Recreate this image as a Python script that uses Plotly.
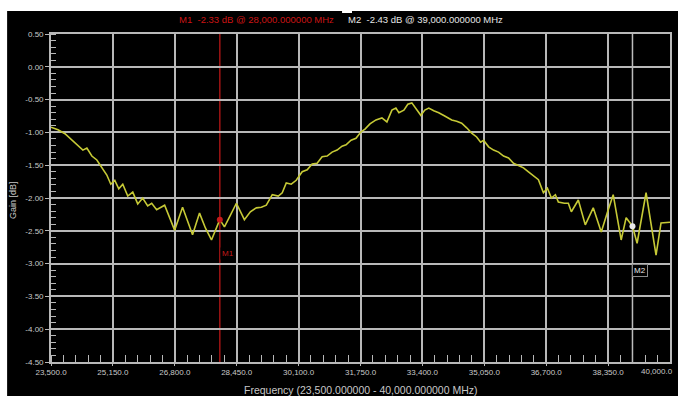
import plotly.graph_objects as go

# Measured S21 gain sweep (MHz, dB)
freq_mhz = [23500, 23686, 23872, 24058, 24217, 24350, 24456, 24589, 24722, 24855,
            24988, 25094, 25200, 25307, 25413, 25546, 25679, 25812, 25944, 26077,
            26184, 26316, 26529, 26795, 27007, 27273, 27459, 27618, 27778, 28000,
            28123, 28283, 28442, 28655, 28814, 28973, 29106, 29239, 29399, 29558,
            29664, 29771, 29904, 30036, 30196, 30329, 30461, 30594, 30727, 30860,
            30993, 31126, 31258, 31365, 31498, 31630, 31763, 31870, 32002, 32162,
            32321, 32454, 32587, 32693, 32773, 32906, 33012, 33118, 33251, 33358,
            33464, 33570, 33703, 33836, 33995, 34181, 34314, 34447, 34580, 34713,
            34846, 34952, 35032, 35165, 35297, 35430, 35563, 35696, 35829, 35962,
            36095, 36227, 36360, 36493, 36626, 36732, 36839, 36945, 37024, 37184,
            37290, 37370, 37556, 37742, 37954, 38167, 38326, 38486, 38698, 38831,
            39000, 39123, 39362, 39628, 39761, 39894, 40000]
gain_db = [-0.92, -0.96, -1.02, -1.12, -1.21, -1.27, -1.24, -1.36, -1.42, -1.54,
           -1.65, -1.79, -1.73, -1.86, -1.79, -1.97, -1.91, -2.09, -2.00, -2.12,
           -2.08, -2.18, -2.11, -2.49, -2.14, -2.56, -2.23, -2.46, -2.64, -2.33,
           -2.44, -2.26, -2.08, -2.33, -2.21, -2.15, -2.14, -2.11, -1.95, -1.97,
           -1.92, -1.77, -1.79, -1.73, -1.60, -1.57, -1.48, -1.47, -1.37, -1.36,
           -1.30, -1.27, -1.21, -1.19, -1.12, -1.09, -0.99, -0.95, -0.87, -0.81,
           -0.78, -0.84, -0.66, -0.63, -0.70, -0.66, -0.57, -0.55, -0.66, -0.74,
           -0.66, -0.63, -0.67, -0.70, -0.75, -0.81, -0.83, -0.86, -0.93, -1.01,
           -1.07, -1.15, -1.12, -1.22, -1.27, -1.30, -1.36, -1.39, -1.47, -1.50,
           -1.54, -1.60, -1.66, -1.72, -1.92, -1.85, -2.00, -1.95, -2.06, -2.08,
           -2.08, -2.21, -2.03, -2.41, -2.15, -2.52, -2.23, -1.95, -2.64, -2.30,
           -2.43, -2.69, -1.92, -2.87, -2.38, -2.37, -2.37]

# Markers
marker_names = ["M1", "M2"]
marker_freq = [28000, 39000]
marker_gain = [-2.33, -2.43]
marker_colors = ["#c41a1a", "#e8e8e8"]
marker_line_colors = ["#a01414", "#bdbdbd"]
marker_label_freq = [28230, 39200]
marker_label_gain = [-2.84, -3.10]

# Axes
x_ticks = [23500 + 1650 * i for i in range(11)]
y_ticks = [0.5 - 0.5 * i for i in range(11)]
x_ticktext = [f"{v:,.1f}" for v in x_ticks]
y_ticktext = [f"{v:.2f}" for v in y_ticks]

grid_col = "#b8b8b8"
text_col = "#c8c8c8"
font_fam = "Liberation Sans, Arial, sans-serif"

fig = go.Figure()

fig.add_trace(go.Scatter(
    x=freq_mhz, y=gain_db, mode="lines",
    line=dict(color="#c6c936", width=1.6), hoverinfo="skip", showlegend=False))

for i, name in enumerate(marker_names):
    fig.add_shape(type="line", xref="x", yref="paper",
                  x0=marker_freq[i], x1=marker_freq[i], y0=0, y1=1,
                  line=dict(color=marker_line_colors[i], width=1.5), layer="below")
    fig.add_trace(go.Scatter(
        x=[marker_freq[i]], y=[marker_gain[i]], mode="markers",
        marker=dict(color=marker_colors[i], size=6), showlegend=False, hoverinfo="skip"))
    fig.add_annotation(
        x=marker_label_freq[i], y=marker_label_gain[i], xref="x", yref="y",
        text=name, showarrow=False,
        font=dict(family=font_fam, size=8, color=marker_colors[i]),
        bgcolor="#000000",
        bordercolor="#8a8a8a" if i == 1 else "rgba(0,0,0,0)", borderwidth=1, borderpad=1)

# Marker readout along the top
fig.add_annotation(
    x=0.4605, y=1.0427, xref="paper", yref="paper", xanchor="right", yanchor="middle",
    text=f"{marker_names[0]}  {marker_gain[0]:.2f} dB @ {marker_freq[0]:,.6f} MHz",
    showarrow=False, font=dict(family=font_fam, size=9.5, color="#cc1414"))
fig.add_annotation(
    x=0.4767, y=1.0427, xref="paper", yref="paper", xanchor="left", yanchor="middle",
    text=f"{marker_names[1]}  {marker_gain[1]:.2f} dB @ {marker_freq[1]:,.6f} MHz",
    showarrow=False, font=dict(family=font_fam, size=9.5, color="#e6e6e6"))

# Axis titles
fig.add_annotation(
    x=0.5, y=-0.085, xref="paper", yref="paper", xanchor="center", yanchor="middle",
    text=f"Frequency ({x_ticks[0]:,.6f} - {x_ticks[-1]:,.6f} MHz)",
    showarrow=False, font=dict(family=font_fam, size=10.5, color=text_col))
fig.add_annotation(
    x=-0.0612, y=0.494, xref="paper", yref="paper", xanchor="center", yanchor="middle",
    text="Gain [dB]", textangle=-90,
    showarrow=False, font=dict(family=font_fam, size=9, color=text_col))

# Last frequency label, pulled in so it stays on the page
fig.add_annotation(
    x=x_ticks[-1], y=0, xref="x", yref="paper", xanchor="right", yanchor="top",
    xshift=5, yshift=-3, text=x_ticktext[-1], showarrow=False,
    font=dict(family=font_fam, size=8, color=text_col))

# White frame strips along the top and left edge
fig.add_shape(type="rect", xref="paper", yref="paper",
              x0=-0.09, x1=1.02, y0=1.0701, y1=1.11,
              fillcolor="#ffffff", line=dict(width=0), layer="above")
fig.add_shape(type="rect", xref="paper", yref="paper",
              x0=-0.09, x1=-0.0709, y0=-0.11, y1=1.11,
              fillcolor="#ffffff", line=dict(width=0), layer="above")
fig.add_shape(type="rect", xref="paper", yref="paper",
              x0=0.4702, x1=0.4863, y0=1.0640, y1=1.0710,
              fillcolor="#ffffff", line=dict(width=0), layer="above")

fig.update_layout(
    width=678, height=396,
    margin=dict(l=51, r=6, t=34, b=34),
    paper_bgcolor="#000000", plot_bgcolor="#000000",
    showlegend=False,
    font=dict(family=font_fam, size=8, color=text_col),
)
fig.update_xaxes(
    range=[x_ticks[0], x_ticks[-1]],
    tickvals=x_ticks[:-1], ticktext=x_ticktext[:-1],
    showgrid=True, gridcolor=grid_col, gridwidth=1.7,
    showline=True, linecolor=grid_col, linewidth=1.7, mirror=True,
    ticks="outside", ticklen=2, tickcolor=grid_col,
    tickfont=dict(size=8, color=text_col),
    minor=dict(ticks="inside", dtick=330, tick0=23500, ticklen=7,
               tickcolor=grid_col, tickwidth=1, showgrid=False),
    zeroline=False,
)
fig.update_yaxes(
    range=[y_ticks[-1], y_ticks[0]],
    tickvals=y_ticks, ticktext=y_ticktext,
    showgrid=True, gridcolor=grid_col, gridwidth=1.7,
    showline=True, linecolor=grid_col, linewidth=1.7, mirror=True,
    ticks="outside", ticklen=4, tickcolor=grid_col,
    tickfont=dict(size=8, color=text_col),
    minor=dict(ticks="inside", dtick=0.1, tick0=0.5, ticklen=5,
               tickcolor=grid_col, tickwidth=1, showgrid=False),
    zeroline=False,
)

fig.write_html("out.html")
